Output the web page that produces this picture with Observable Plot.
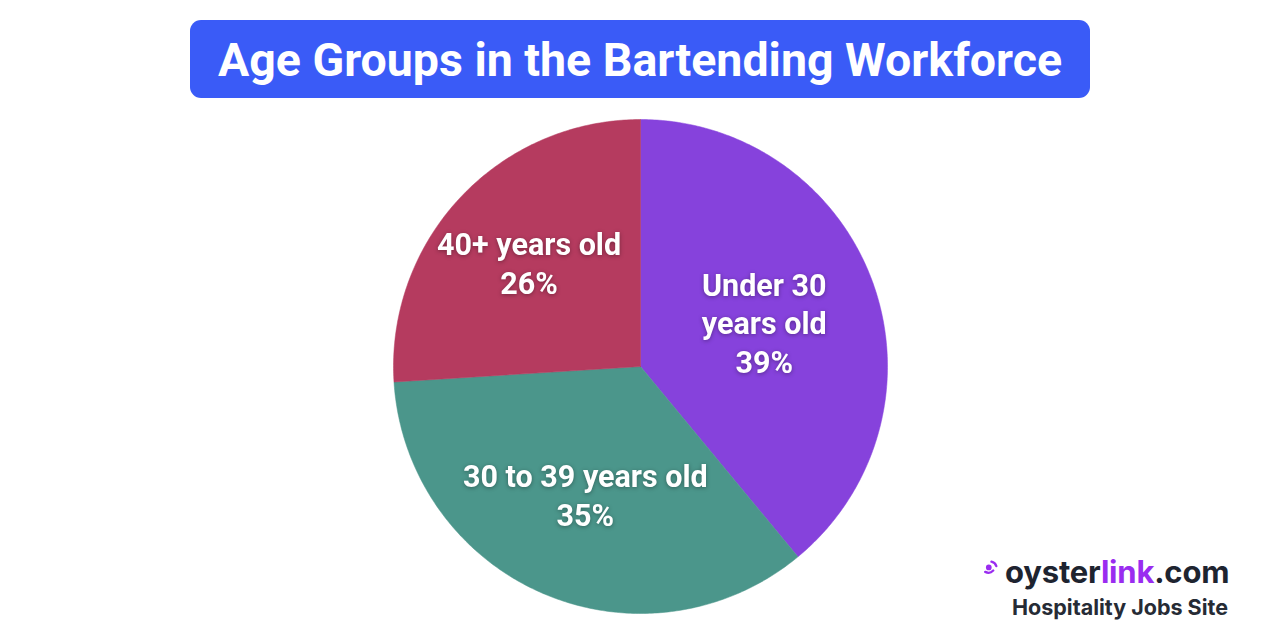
<!DOCTYPE html>
<html>
<head>
<meta charset="utf-8">
<script src="https://cdn.jsdelivr.net/npm/d3@7"></script>
<script src="https://cdn.jsdelivr.net/npm/@observablehq/plot@0.6"></script>
<style>
  html, body { margin: 0; padding: 0; background: #ffffff; }
  #wrap { position: relative; width: 1280px; height: 640px; overflow: hidden; font-family: Roboto, "Noto Sans", sans-serif; }
  #title { position: absolute; left: 190px; top: 20px; width: 900px; height: 78px; background: #3a5bf7; border-radius: 11px;
           color: #fff; font-weight: 700; font-size: 46.5px; line-height: 80px; text-align: center; white-space: nowrap; }
  #chart { position: absolute; left: 0; top: 0; }
  #chart text { filter: drop-shadow(0px 1px 2px rgba(0,0,0,0.35)); }
  #logo1 { position: absolute; left: 983px; top: 553px; font-family: Inter, Roboto, sans-serif; font-size: 31px; font-weight: 700;
           color: #1e2430; line-height: 38px; letter-spacing: -0.2px; white-space: nowrap; }
  #logo1 .lk { color: #9a2cf0; }
  #logo2 { position: absolute; left: 1012px; top: 592px; font-family: Inter, Roboto, sans-serif; font-size: 21.5px; font-weight: 700;
           color: #262b35; line-height: 30px; white-space: nowrap; }
  #logo1 svg { vertical-align: 8px; margin-right: 6px; }
</style>
</head>
<body>
<div id="wrap">
  <div id="chart"></div>
  <div id="title">Age Groups in the Bartending Workforce</div>
  <div id="logo1"><svg width="16" height="16" viewBox="0 0 18 18"><circle cx="6.5" cy="9.5" r="3.2" fill="#9a2cf0"/><path d="M2.5 14.5 A7.5 7.5 0 0 0 11.5 13" stroke="#9a2cf0" stroke-width="2.6" fill="none" stroke-linecap="round"/><path d="M9.5 3 A7.5 7.5 0 0 1 15 8" stroke="#9a2cf0" stroke-width="2.6" fill="none" stroke-linecap="round"/></svg>oyster<span class="lk">link</span>.com</div>
  <div id="logo2">Hospitality Jobs Site</div>
</div>
<script>
// ---- data ----
const categories = ["Under 30 years old", "30 to 39 years old", "40+ years old"];
const labelLines = ["Under 30\nyears old", "30 to 39 years old", "40+ years old"];
const values = [39, 35, 26];
const colors = ["#8642dc", "#4b968b", "#b53b5f"];

// ---- layout (pixel frame) ----
const W = 1280, H = 640;
const R = 247;              // pie radius in px
const cx = 640, cy = 366;   // pie centre in px

const pie = d3.pie().sort(null).value(d => d)(values);

// polygon outline of each sector, in unit-radius coordinates (y up)
const outline = [];
pie.forEach((p, i) => {
  const n = Math.max(8, Math.ceil((p.endAngle - p.startAngle) * 90));
  outline.push({cat: categories[i], x: 0, y: 0});
  for (let k = 0; k <= n; k++) {
    const a = p.startAngle + (p.endAngle - p.startAngle) * k / n;
    outline.push({cat: categories[i], x: Math.sin(a), y: Math.cos(a)});
  }
  outline.push({cat: categories[i], x: 0, y: 0});
});

// labels at the geometric centroid of each sector
const labels = pie.map((p, i) => {
  const th = p.endAngle - p.startAngle;
  const mid = (p.startAngle + p.endAngle) / 2;
  const rc = 4 * Math.sin(th / 2) / (3 * th) * 1.04;
  return {cat: categories[i], text: `${labelLines[i]}\n${values[i]}%`, x: rc * Math.sin(mid), y: rc * Math.cos(mid)};
});

const chart = Plot.plot({
  width: W, height: H,
  margin: 0,
  style: {background: "transparent", fontFamily: "Roboto, sans-serif", overflow: "visible"},
  x: {domain: [-cx / R, (W - cx) / R], axis: null},
  y: {domain: [-(H - cy) / R, cy / R], axis: null},
  color: {domain: categories, range: colors},
  marks: [
    Plot.line(outline, {x: "x", y: "y", z: "cat", fill: "cat", stroke: "cat", strokeWidth: 0.5, curve: "linear"}),
    Plot.text(labels, {x: "x", y: "y", text: "text", fill: "#ffffff", fontSize: 30.5, fontWeight: 700, lineHeight: 1.27, lineAnchor: "middle", textAnchor: "middle"})
  ]
});
document.getElementById("chart").appendChild(chart);
</script>
</body>
</html>
